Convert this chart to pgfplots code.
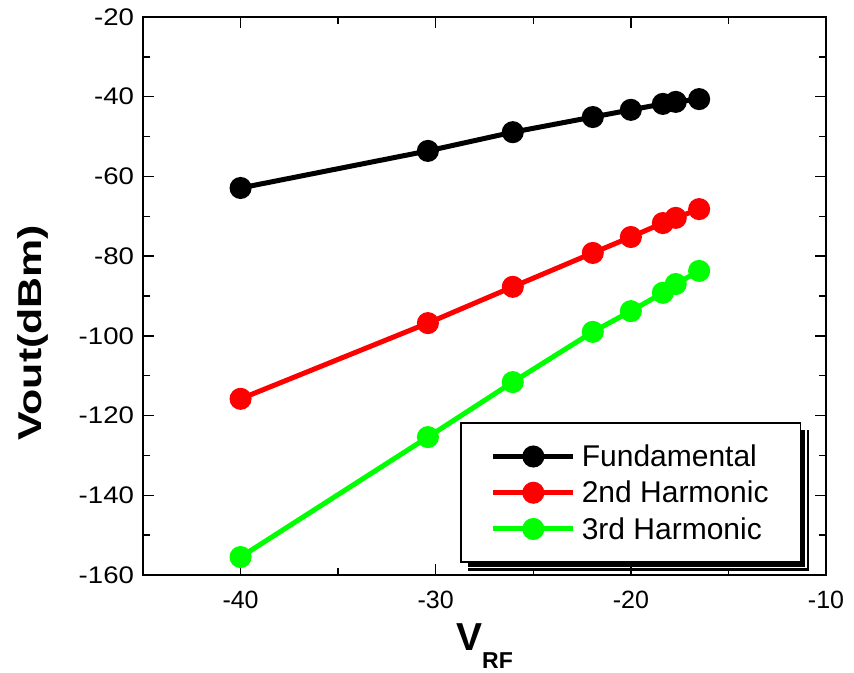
\documentclass[border=0pt]{standalone}
\usepackage{fontspec}
\setmainfont{Liberation Sans}
\usepackage{graphicx}
\usepackage{pgfplots}
\pgfplotsset{compat=1.18}
\usetikzlibrary{backgrounds}
\begin{document}
\begin{tikzpicture}
\begin{axis}[
  scale only axis,
  width=683pt, height=558pt,
  xmin=-45, xmax=-10, ymin=-160, ymax=-20,
  xtick={-40,-30,-20,-10},
  ytick={-160,-140,-120,-100,-80,-60,-40,-20},
  minor xtick={-35,-25,-15},
  minor ytick={-150,-130,-110,-90,-70,-50,-30},
  tick align=inside,
  major tick length=11pt, minor tick length=7pt,
  every tick/.style={line width=1.5pt, black},
  axis line style={line width=1.8pt},
  /pgf/number format/assume math mode=true,
  xticklabel style={font=\fontsize{25}{27}\selectfont, yshift=-12.5pt},
  yticklabel style={font=\fontsize{24}{26}\selectfont, xshift=-5.5pt},
  yticklabel={\scalebox{1.15}[1]{\pgfmathprintnumber{\tick}}},
  xlabel={\textbf{V}\raisebox{-18pt}{\fontsize{23}{25}\selectfont\textbf{RF}}},
  xlabel style={font=\fontsize{39}{41}\selectfont, at={(axis description cs:0.5,-0.135)}, anchor=base},
  ylabel={\scalebox{1.3}[1]{\textbf{Vout(dBm)}}},
  ylabel style={font=\fontsize{33}{35}\selectfont, at={(axis description cs:-0.148,0.434)}, anchor=base},
  legend cell align=left,
  legend style={
    name=leg,
    at={(0.464,0.0215)}, anchor=south west,
    draw=black, line width=1.8pt, fill=white,
    font=\fontsize{30}{32}\selectfont,
    inner xsep=30pt, inner ysep=19.5pt,
    row sep=9pt, column sep=4pt,
  },
  legend image code/.code={\draw[mark repeat=2,mark phase=2,line width=5pt] plot coordinates {(0pt,0pt) (40pt,0pt) (80pt,0pt)};},
]
\addplot[black, line width=5pt, mark=*, mark size=8.5pt, mark options={solid}] coordinates {
(-40,-62.9) (-30.4,-53.6) (-26.05,-48.9) (-21.95,-45.1) (-20,-43.3) (-18.36,-41.8) (-17.7,-41.3) (-16.5,-40.6)};
\addlegendentry{Fundamental}
\addplot[red, line width=5pt, mark=*, mark size=8.5pt, mark options={solid}] coordinates {
(-40,-115.8) (-30.4,-96.8) (-26.05,-87.7) (-21.95,-79.2) (-20,-75.2) (-18.36,-71.7) (-17.7,-70.4) (-16.5,-68.2)};
\addlegendentry{2nd Harmonic}
\addplot[green, line width=5pt, mark=*, mark size=8.5pt, mark options={solid}] coordinates {
(-40,-155.5) (-30.4,-125.4) (-26.05,-111.6) (-21.95,-99.0) (-20,-93.8) (-18.36,-89.2) (-17.7,-87.0) (-16.5,-83.7)};
\addlegendentry{3rd Harmonic}
\end{axis}
\begin{pgfonlayer}{background}
\fill[black] ([shift={(8pt,-8pt)}]leg.south west) rectangle ([shift={(8pt,-8pt)}]leg.north east);
\draw[white, line width=1.2pt] ([shift={(4.5pt,-4.5pt)}]leg.south west) rectangle ([shift={(4.5pt,-4.5pt)}]leg.north east);
\end{pgfonlayer}
\path ([xshift=-143pt,yshift=-97pt]current axis.south west);
\path ([xshift=28pt,yshift=17pt]current axis.north east);
\end{tikzpicture}
\end{document}
